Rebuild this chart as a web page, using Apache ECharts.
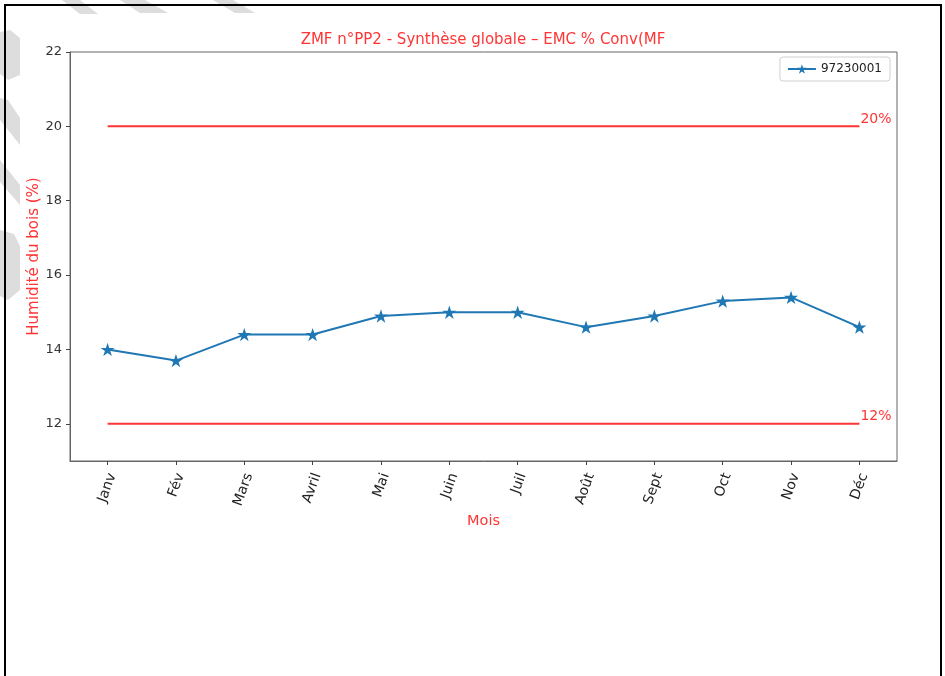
<!DOCTYPE html>
<html>
<head>
<meta charset="utf-8">
<title>ZMF n°PP2 - Synthèse globale</title>
<script src="https://cdn.jsdelivr.net/npm/echarts@6/dist/echarts.min.js"></script>
<style>
  html, body { margin: 0; padding: 0; background: #ffffff; }
  #chart { width: 945px; height: 676px; }
</style>
</head>
<body>
<div id="chart"></div>
<script>
// Months shown on the x axis
const months = ['Janv', 'Fév', 'Mars', 'Avril', 'Mai', 'Juin', 'Juil', 'Août', 'Sept', 'Oct', 'Nov', 'Déc'];
// Monthly wood moisture (%) for sensor 97230001
const seriesName = '97230001';
const moisture = [14.0, 13.7, 14.4, 14.4, 14.9, 15.0, 15.0, 14.6, 14.9, 15.3, 15.4, 14.6];
// Reference thresholds (%)
const thresholds = [20, 12];
// Y axis tick labels
const yTicks = [12, 14, 16, 18, 20, 22];

const RED = '#ff3535';
const BLUE = '#1f77b4';
const STAR = 'path://M100 0 L122.45 69.1 L195.1 69.1 L136.3 111.8 L158.8 180.9 L100 138.2 L41.2 180.9 L63.7 111.8 L4.9 69.1 L77.55 69.1 Z';
const FONT = 'DejaVu Sans';

const chart = echarts.init(document.getElementById('chart'), null, { renderer: 'canvas' });

const lastIdx = months.length - 1;
const thresholdSeries = thresholds.map(t => ({
  name: 'seuil ' + t,
  type: 'line',
  data: [[0, t], [lastIdx, t]],
  symbol: 'none',
  lineStyle: { color: RED, width: 2 },
  silent: true,
  z: 2,
  endLabel: {
    show: true,
    formatter: t + '%',
    color: RED,
    fontFamily: FONT,
    fontSize: 14,
    distance: 1,
    offset: [0, -7]
  }
}));

// Light grey watermark fragments along the top-left edge
const wm = '#dddddd';
const watermark = [
  [[62, 0], [80, 0], [98, 14], [80, 14]],
  [[120, 0], [145, 0], [168, 13], [140, 13]],
  [[213, 0], [233, 0], [255, 13], [235, 13]],
  [[0, 32], [10, 30], [20, 38], [20, 75], [8, 80], [0, 74]],
  [[0, 98], [8, 100], [20, 118], [20, 145], [0, 120]],
  [[0, 160], [20, 185], [20, 205], [0, 182]],
  [[0, 230], [14, 234], [20, 246], [20, 290], [8, 300], [0, 296]]
].map(pts => ({
  type: 'polygon',
  shape: { points: pts },
  style: { fill: wm },
  silent: true,
  z: -10
}));

const option = {
  backgroundColor: '#ffffff',
  animation: false,
  title: {
    text: 'ZMF n°PP2 - Synthèse globale – EMC % Conv(MF',
    left: 478,
    textAlign: 'center',
    top: 28,
    textStyle: { color: RED, fontFamily: FONT, fontSize: 15, fontWeight: 'normal' }
  },
  legend: {
    data: [seriesName],
    right: 55,
    top: 57,
    backgroundColor: '#ffffff',
    borderColor: '#d0d0d0',
    borderWidth: 1,
    borderRadius: 3,
    padding: [6, 8, 6, 7],
    itemWidth: 28,
    itemHeight: 12,
    itemGap: 6,
    textStyle: { color: '#222', fontFamily: FONT, fontSize: 12 }
  },
  grid: {
    left: 70,
    right: 48,
    top: 52,
    bottom: 215,
    show: true,
    borderColor: '#666',
    borderWidth: 1
  },
  xAxis: {
    type: 'value',
    min: -0.55,
    max: 11.55,
    name: 'Mois',
    nameLocation: 'middle',
    nameGap: 53,
    nameMoveOverlap: false,
    nameTextStyle: { color: RED, fontFamily: FONT, fontSize: 14.5 },
    axisLine: { show: true, onZero: false, lineStyle: { color: '#666', width: 1 } },
    axisTick: {
      show: true,
      customValues: months.map((m, i) => i),
      length: 4,
      lineStyle: { color: '#444' }
    },
    axisLabel: {
      customValues: months.map((m, i) => i),
      formatter: v => months[Math.round(v)] || '',
      rotate: 70,
      margin: 11,
      verticalAlign: 'top',
      lineHeight: 10,
      color: '#222',
      fontFamily: FONT,
      fontSize: 14
    },
    splitLine: { show: false }
  },
  yAxis: {
    type: 'value',
    min: 11,
    max: 22,
    name: 'Humidité du bois (%)',
    nameLocation: 'middle',
    nameGap: 28,
    nameMoveOverlap: false,
    nameTextStyle: { color: RED, fontFamily: FONT, fontSize: 15 },
    axisLine: { show: true, onZero: false, lineStyle: { color: '#666', width: 1 } },
    axisTick: {
      show: true,
      customValues: yTicks,
      length: 4,
      lineStyle: { color: '#444' }
    },
    axisLabel: {
      customValues: yTicks,
      margin: 8,
      color: '#333',
      fontFamily: FONT,
      fontSize: 13
    },
    splitLine: { show: false }
  },
  graphic: [
    // outer page frame
    { type: 'line', shape: { x1: 4, y1: 5, x2: 942, y2: 5 }, style: { stroke: '#000', lineWidth: 2 }, silent: true, z: 100 },
    { type: 'line', shape: { x1: 5, y1: 4, x2: 5, y2: 676 }, style: { stroke: '#000', lineWidth: 2 }, silent: true, z: 100 },
    { type: 'line', shape: { x1: 941, y1: 4, x2: 941, y2: 676 }, style: { stroke: '#000', lineWidth: 2 }, silent: true, z: 100 }
  ].concat(watermark),
  series: thresholdSeries.concat([{
    name: seriesName,
    type: 'line',
    data: moisture.map((v, i) => [i, v]),
    symbol: STAR,
    symbolSize: 14,
    symbolKeepAspect: true,
    lineStyle: { color: BLUE, width: 2 },
    itemStyle: { color: BLUE },
    z: 5
  }])
};

chart.setOption(option);
</script>
</body>
</html>
